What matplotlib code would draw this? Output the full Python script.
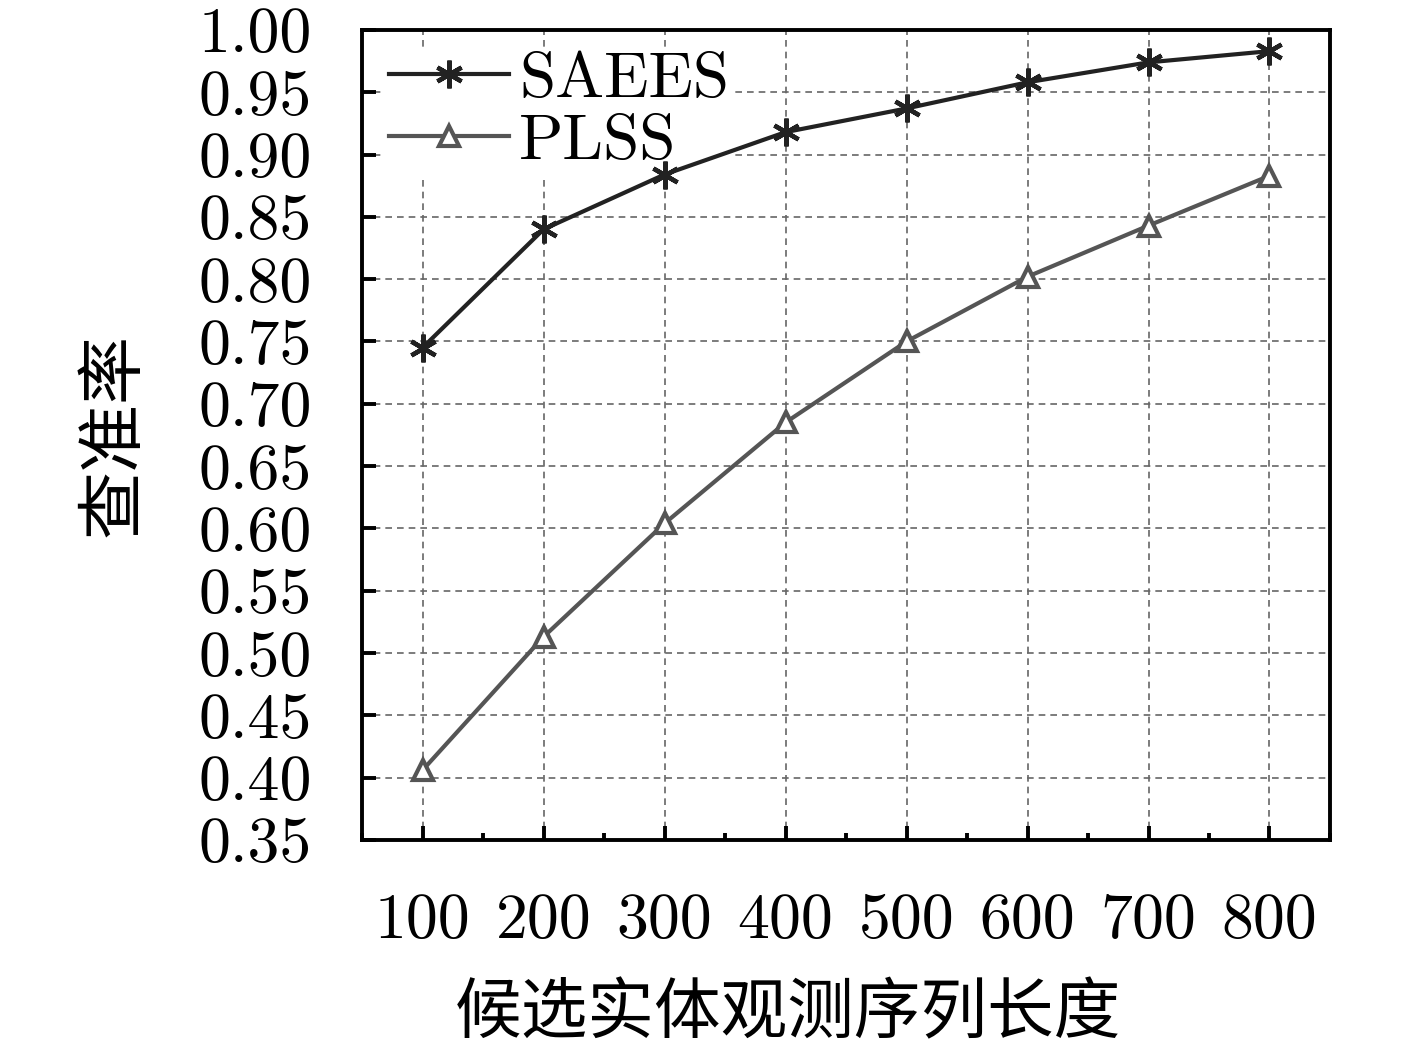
import matplotlib
matplotlib.use("Agg")
import matplotlib.pyplot as plt
from matplotlib.ticker import MultipleLocator

plt.rcParams['font.family'] = ['cmr10', 'Noto Sans CJK SC', 'DejaVu Sans']
plt.rcParams['axes.formatter.use_mathtext'] = True

x = [100, 200, 300, 400, 500, 600, 700, 800]
saees = [0.745, 0.840, 0.884, 0.918, 0.937, 0.958, 0.974, 0.983]
plss = [0.406, 0.513, 0.604, 0.685, 0.750, 0.802, 0.843, 0.883]
yticks = [0.35, 0.40, 0.45, 0.50, 0.55, 0.60, 0.65, 0.70, 0.75, 0.80, 0.85, 0.90, 0.95, 1.00]
xlabel = "候选实体观测序列长度"
ylabel = "查准率"

fig = plt.figure(figsize=(14.17, 10.51), dpi=100)
ax = fig.add_axes([0.2555, 0.2008, 0.9386 - 0.2555, 0.9715 - 0.2008])

ax.plot(x, saees, color='#222222', lw=3, marker=(6, 2, 0), ms=20, mew=3.2,
        label='SAEES', zorder=4)
ax.plot(x, plss, color='#555555', lw=3, marker='^', ms=15, mew=3,
        mfc='white', label='PLSS', zorder=4)

ax.set_xlim(50, 850)
ax.set_ylim(0.35, 1.00)
ax.set_xticks(x)
ax.set_xticklabels([str(v) for v in x])
ax.xaxis.set_minor_locator(MultipleLocator(50))
ax.set_yticks(yticks)
ax.set_yticklabels([f"{v:.2f}" for v in yticks])

ax.grid(True, which='major', linestyle=(0, (4, 3)), color='#666666', lw=1.2)
ax.set_axisbelow(True)

for s in ax.spines.values():
    s.set_linewidth(2.8)
    s.set_zorder(5)

ax.tick_params(axis='both', which='major', direction='in', length=10, width=2.8,
               labelsize=46)
ax.tick_params(axis='x', which='major', pad=38)
ax.tick_params(axis='y', which='major', pad=36)
ax.tick_params(axis='x', which='minor', direction='in', length=5, width=2.8)
ax.tick_params(top=False, right=False)

ax.set_xlabel(xlabel, fontsize=48, va='center')
ax.xaxis.set_label_coords((788 - 362) / 968, -(1015 - 840) / 810)
ax.set_ylabel(ylabel, fontsize=49, va='center')
ax.yaxis.set_label_coords(-(362 - 115) / 968, 0.5)

leg = ax.legend(loc='upper left', bbox_to_anchor=(0.024, 0.978), frameon=True,
                fontsize=47, handlelength=1.85, handletextpad=0.15,
                borderaxespad=0.0, labelspacing=0.05, borderpad=0.05)
leg.get_frame().set_edgecolor('none')
leg.get_frame().set_facecolor('white')
leg.get_frame().set_alpha(1.0)
leg.set_zorder(3)

fig.savefig("out.png", dpi=100)
